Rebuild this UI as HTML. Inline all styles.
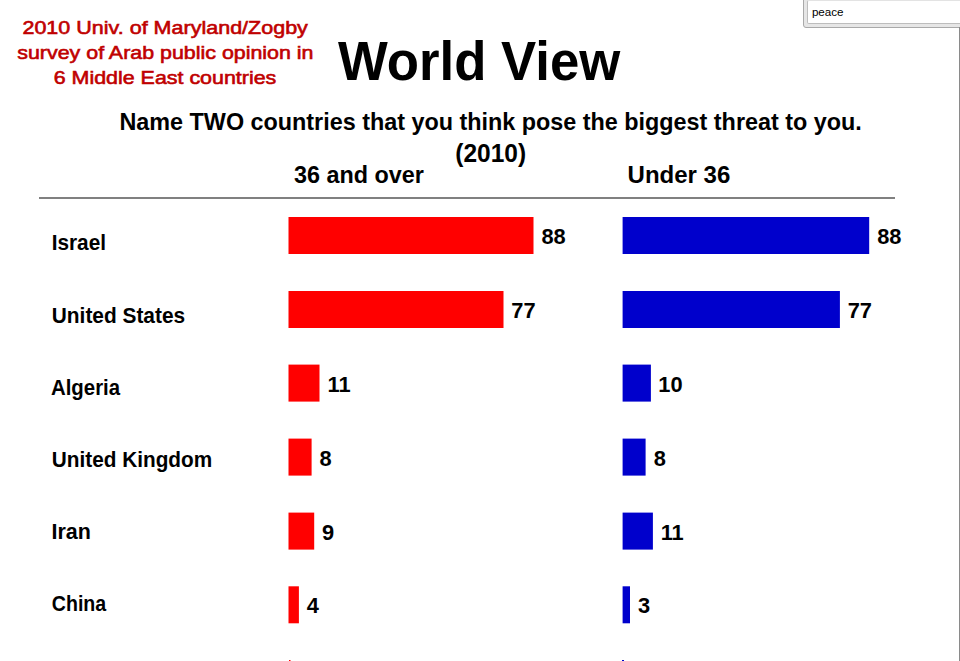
<!DOCTYPE html>
<html><head><meta charset="utf-8"><style>
html,body{margin:0;padding:0;background:#fff;width:960px;height:661px;overflow:hidden}
svg{position:absolute;left:0;top:0}
text{font-family:"Liberation Sans",sans-serif}
.search{position:absolute;left:803px;top:-3px;width:170px;height:31px;border:1px solid #a9a9a9;border-radius:3px;background:#e6e6e6;box-sizing:border-box}
.inner{position:absolute;left:3px;top:2px;right:0;bottom:3px;background:#fff;border:1px solid #bdbdbd;border-top-color:#e3e3e3;border-radius:2px}
.vline{position:absolute;left:959px;top:27px;width:1px;bottom:0;background:#8a8a8a}
</style></head><body>
<div class="search"><div class="inner"></div></div>
<div class="vline"></div>
<svg width="960" height="661" viewBox="0 0 960 661">
<rect x="39" y="197" width="856" height="2" fill="#808080"/>
<rect x="288.5" y="217.00" width="245.00" height="37" fill="#ff0000"/>
<rect x="622.6" y="217.00" width="246.60" height="37" fill="#0000cc"/>
<rect x="288.5" y="291.00" width="215.00" height="37" fill="#ff0000"/>
<rect x="622.6" y="291.00" width="217.30" height="37" fill="#0000cc"/>
<rect x="288.5" y="364.60" width="31.00" height="37" fill="#ff0000"/>
<rect x="622.6" y="364.60" width="28.30" height="37" fill="#0000cc"/>
<rect x="288.5" y="438.60" width="23.10" height="37" fill="#ff0000"/>
<rect x="622.6" y="438.60" width="23.00" height="37" fill="#0000cc"/>
<rect x="288.5" y="512.60" width="25.70" height="37" fill="#ff0000"/>
<rect x="622.6" y="512.60" width="30.30" height="37" fill="#0000cc"/>
<rect x="288.5" y="586.30" width="10.40" height="37" fill="#ff0000"/>
<rect x="622.6" y="586.30" width="7.40" height="37" fill="#0000cc"/>
<rect x="289" y="660" width="1.5" height="1" fill="#ff0000"/>
<rect x="622" y="660" width="2" height="1" fill="#0000cc"/>
<text transform="translate(22.42,33.80) scale(1.1387,1)" font-size="18.90" font-weight="normal" fill="#c00000" stroke="#c00000" stroke-width="0.6">2010 Univ. of Maryland/Zogby</text>
<text transform="translate(17.26,58.70) scale(1.1329,1)" font-size="18.90" font-weight="normal" fill="#c00000" stroke="#c00000" stroke-width="0.6">survey of Arab public opinion in</text>
<text transform="translate(53.73,83.80) scale(1.1336,1)" font-size="18.90" font-weight="normal" fill="#c00000" stroke="#c00000" stroke-width="0.6">6 Middle East countries</text>
<text transform="translate(811.88,15.70) scale(1.0463,1)" font-size="11.13" font-weight="normal" fill="#000">peace</text>
<text transform="translate(338.00,79.50) scale(0.9651,1)" font-size="54.64" font-weight="bold" fill="#000">World View</text>
<text transform="translate(119.46,130.00) scale(0.9485,1)" font-size="24.64" font-weight="bold" fill="#000">Name TWO countries that you think pose the biggest threat to you.</text>
<text transform="translate(455.27,162.10) scale(0.9806,1)" font-size="25.00" font-weight="bold" fill="#000">(2010)</text>
<text transform="translate(293.93,182.80) scale(0.9511,1)" font-size="24.57" font-weight="bold" fill="#000">36 and over</text>
<text transform="translate(627.56,183.10) scale(0.9692,1)" font-size="24.78" font-weight="bold" fill="#000">Under 36</text>
<text transform="translate(51.64,250.00) scale(0.9634,1)" font-size="21.60" font-weight="bold" fill="#000">Israel</text>
<text transform="translate(51.75,323.20) scale(0.9671,1)" font-size="21.60" font-weight="bold" fill="#000">United States</text>
<text transform="translate(50.99,394.75) scale(0.9438,1)" font-size="21.60" font-weight="bold" fill="#000">Algeria</text>
<text transform="translate(51.75,467.00) scale(0.9625,1)" font-size="21.60" font-weight="bold" fill="#000">United Kingdom</text>
<text transform="translate(51.49,539.00) scale(0.9967,1)" font-size="21.60" font-weight="bold" fill="#000">Iran</text>
<text transform="translate(51.82,610.80) scale(0.9073,1)" font-size="21.60" font-weight="bold" fill="#000">China</text>
<text transform="translate(541.43,243.90) scale(0.9800,1)" font-size="22.29" font-weight="bold" fill="#000">88</text>
<text transform="translate(877.23,243.90) scale(0.9800,1)" font-size="22.29" font-weight="bold" fill="#000">88</text>
<text transform="translate(511.33,317.90) scale(0.9800,1)" font-size="22.29" font-weight="bold" fill="#000">77</text>
<text transform="translate(847.63,317.90) scale(0.9800,1)" font-size="22.29" font-weight="bold" fill="#000">77</text>
<text transform="translate(327.60,391.50) scale(0.9800,1)" font-size="22.29" font-weight="bold" fill="#000">11</text>
<text transform="translate(658.36,391.50) scale(0.9800,1)" font-size="22.29" font-weight="bold" fill="#000">10</text>
<text transform="translate(319.38,465.50) scale(0.9800,1)" font-size="22.29" font-weight="bold" fill="#000">8</text>
<text transform="translate(653.63,465.50) scale(0.9800,1)" font-size="22.29" font-weight="bold" fill="#000">8</text>
<text transform="translate(322.03,539.50) scale(0.9800,1)" font-size="22.29" font-weight="bold" fill="#000">9</text>
<text transform="translate(660.65,539.50) scale(0.9800,1)" font-size="22.29" font-weight="bold" fill="#000">11</text>
<text transform="translate(306.63,613.20) scale(0.9800,1)" font-size="22.29" font-weight="bold" fill="#000">4</text>
<text transform="translate(638.10,613.20) scale(0.9800,1)" font-size="22.29" font-weight="bold" fill="#000">3</text>
</svg>
</body></html>
